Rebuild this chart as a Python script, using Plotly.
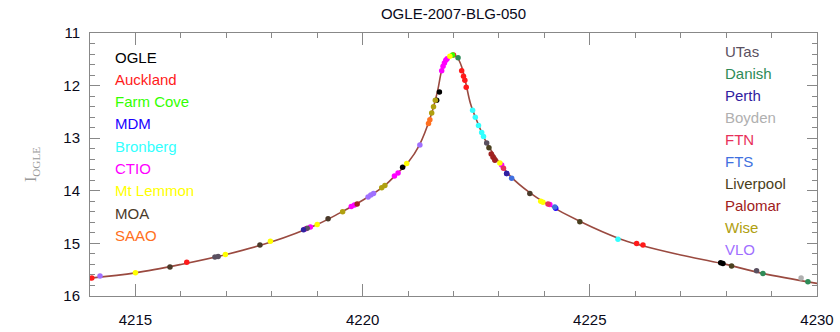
import plotly.graph_objects as go

# ---- model light curve ----
model_t = [4214.0, 4215.0, 4216.0, 4217.0, 4218.0, 4219.0, 4219.5, 4220.0, 4220.5, 4220.75,
           4221.0, 4221.25, 4221.5, 4221.65, 4221.75, 4221.85, 4221.95, 4222.0, 4222.08,
           4222.18, 4222.27, 4222.37, 4222.5, 4222.73, 4223.0, 4223.25, 4223.7, 4224.0,
           4224.8, 4225.65, 4226.1, 4227.0, 4227.9, 4228.8, 4230.0]
model_I = [15.66, 15.56, 15.40, 15.21, 14.97, 14.64, 14.42, 14.18, 13.89, 13.68,
           13.46, 13.13, 12.58, 12.10, 11.68, 11.50, 11.43, 11.42, 11.46,
           11.64, 11.95, 12.33, 12.64, 13.09, 13.45, 13.72, 14.05, 14.22,
           14.59, 14.91, 15.03, 15.22, 15.38, 15.57, 15.76]

# ---- data by observatory ----
ogle_t = [4220.88, 4221.63, 4221.69, 4227.88, 4227.93]
ogle_I = [13.55, 12.28, 12.12, 15.37, 15.38]
auckland_t = [4214.04, 4216.13, 4222.0, 4222.18, 4222.22, 4222.25, 4222.28, 4226.03, 4226.17]
auckland_I = [15.66, 15.36, 11.42, 11.72, 11.82, 11.90, 12.03, 15.00, 15.03]
farmcove_t = [4221.98]
farmcove_I = [11.42]
mdm_t = [4223.17, 4224.25]
mdm_I = [13.67, 14.33]
bronberg_t = [4222.42, 4222.48, 4222.55, 4222.62, 4222.66, 4225.62]
bronberg_I = [12.47, 12.60, 12.76, 12.89, 12.97, 14.92]
ctio_t = [4218.75, 4218.85, 4219.75, 4219.82, 4220.7, 4220.78, 4221.74, 4221.77, 4221.8,
          4221.83, 4221.86, 4223.06, 4224.12]
ctio_I = [14.72, 14.69, 14.30, 14.27, 13.72, 13.66, 11.72, 11.63, 11.57,
          11.52, 11.49, 13.51, 14.26]
mtlemmon_t = [4215.0, 4216.98, 4217.97, 4219.0, 4220.97, 4221.92, 4223.02, 4223.92, 4223.97]
mtlemmon_I = [15.56, 15.21, 14.96, 14.64, 13.48, 11.44, 13.47, 14.20, 14.22]
moa_t = [4215.76, 4217.74, 4219.24, 4223.68]
moa_I = [15.45, 15.03, 14.53, 14.05]
saao_t = [4221.45, 4221.48]
saao_I = [12.72, 12.65]
utas_t = [4216.75, 4216.82, 4218.78, 4222.73, 4228.67]
utas_I = [15.26, 15.25, 14.71, 13.09, 15.52]
danish_t = [4222.1, 4228.81, 4229.8]
danish_I = [11.47, 15.57, 15.73]
perth_t = [4218.7, 4223.17]
perth_I = [14.74, 13.67]
boyden_t = [4229.65]
boyden_I = [15.66]
ftn_t = [4223.1, 4224.08]
ftn_I = [13.57, 14.25]
fts_t = [4223.28, 4224.23]
fts_I = [13.76, 14.31]
liverpool_t = [4222.78, 4224.78, 4228.12]
liverpool_I = [13.18, 14.59, 15.43]
palomar_t = [4219.88, 4222.83, 4222.87, 4222.91]
palomar_I = [14.25, 13.30, 13.36, 13.42]
wise_t = [4219.56, 4220.42, 4220.49, 4221.52, 4221.56, 4221.6]
wise_I = [14.40, 13.94, 13.90, 12.52, 12.40, 12.28]
vlo_t = [4214.22, 4220.12, 4220.18, 4220.24, 4221.26]
vlo_I = [15.62, 14.12, 14.08, 14.05, 13.13]

left_names = ["OGLE", "Auckland", "Farm Cove", "MDM", "Bronberg", "CTIO", "Mt Lemmon", "MOA", "SAAO"]
left_colors = ["#000000", "#ff1a1a", "#33ff00", "#1a00ff", "#33ffff", "#ff00ff", "#ffff00", "#4a3a2a", "#ff7020"]
right_names = ["UTas", "Danish", "Perth", "Boyden", "FTN", "FTS", "Liverpool", "Palomar", "Wise", "VLO"]
right_colors = ["#5a5060", "#2e8b57", "#3020a0", "#b0b0b0", "#e8305a", "#4070e0", "#4a4020", "#a02020", "#b0a010", "#a070ff"]

series = {
    "OGLE": (ogle_t, ogle_I), "Auckland": (auckland_t, auckland_I), "Farm Cove": (farmcove_t, farmcove_I),
    "MDM": (mdm_t, mdm_I), "Bronberg": (bronberg_t, bronberg_I), "CTIO": (ctio_t, ctio_I),
    "Mt Lemmon": (mtlemmon_t, mtlemmon_I), "MOA": (moa_t, moa_I), "SAAO": (saao_t, saao_I),
    "UTas": (utas_t, utas_I), "Danish": (danish_t, danish_I), "Perth": (perth_t, perth_I),
    "Boyden": (boyden_t, boyden_I), "FTN": (ftn_t, ftn_I), "FTS": (fts_t, fts_I),
    "Liverpool": (liverpool_t, liverpool_I), "Palomar": (palomar_t, palomar_I),
    "Wise": (wise_t, wise_I), "VLO": (vlo_t, vlo_I),
}
colors = dict(zip(left_names + right_names, left_colors + right_colors))

FONT = "Liberation Sans, Arial, sans-serif"

fig = go.Figure()
fig.add_trace(go.Scatter(x=model_t, y=model_I, mode="lines", line=dict(color="#9a4a40", width=1.6),
                         line_shape="spline", hoverinfo="skip"))
for name, (tt, ii) in series.items():
    fig.add_trace(go.Scatter(x=tt, y=ii, mode="markers", name=name,
                             marker=dict(color=colors[name], size=5.5, line=dict(width=0))))

# text legends
for k, (n, c) in enumerate(zip(left_names, left_colors)):
    fig.add_annotation(x=113, y=57 + k * 22.3, xref="paper", yref="paper", text=n, showarrow=False,
                       xanchor="left", yanchor="middle", font=dict(family=FONT, size=15, color=c))
for k, (n, c) in enumerate(zip(right_names, right_colors)):
    fig.add_annotation(x=723, y=52 + k * 21.9, xref="paper", yref="paper", text=n, showarrow=False,
                       xanchor="left", yanchor="middle", font=dict(family=FONT, size=15, color=c))

# convert pixel annotation positions to paper coords
L, R, T, B = 90, 23, 33, 36
W, H = 840, 332
pw, ph = W - L - R, H - T - B
for a in fig.layout.annotations:
    a.x = (a.x - L) / pw
    a.y = 1 - (a.y - T) / ph

fig.update_layout(
    width=W, height=H, margin=dict(l=L, r=R, t=T, b=B, autoexpand=False),
    paper_bgcolor="white", plot_bgcolor="white", showlegend=False,
    title=dict(text="OGLE-2007-BLG-050", x=(453.5) / W, xanchor="center", y=1 - 14 / H, yanchor="middle",
               font=dict(family=FONT, size=15, color="#0a0a1a")),
    font=dict(family=FONT, size=15, color="#0a0a1a"),
)
fig.update_xaxes(range=[4214, 4230], tick0=4215, dtick=5, ticks="inside", ticklen=12, tickcolor="#888888",
                 showline=True, linecolor="#888888", linewidth=1, mirror="allticks", showgrid=False,
                 zeroline=False, tickformat="d", tickfont=dict(size=15), ticklabelstandoff=10,
                 automargin=False,
                 minor=dict(dtick=1, ticks="inside", ticklen=5, tickcolor="#888888", showgrid=False))
fig.update_yaxes(range=[16, 11], dtick=1, ticks="inside", ticklen=10, tickcolor="#888888",
                 showline=True, linecolor="#888888", linewidth=1, mirror="allticks", showgrid=False,
                 zeroline=False, tickfont=dict(size=15), ticklabelstandoff=6, automargin=False,
                 title=dict(text="I<sub>OGLE</sub>", font=dict(family="Liberation Serif, Times New Roman, serif",
                                                         size=16, color="#999999"), standoff=22),
                 minor=dict(dtick=0.2, ticks="inside", ticklen=5, tickcolor="#888888", showgrid=False))

fig.write_html("out.html")
